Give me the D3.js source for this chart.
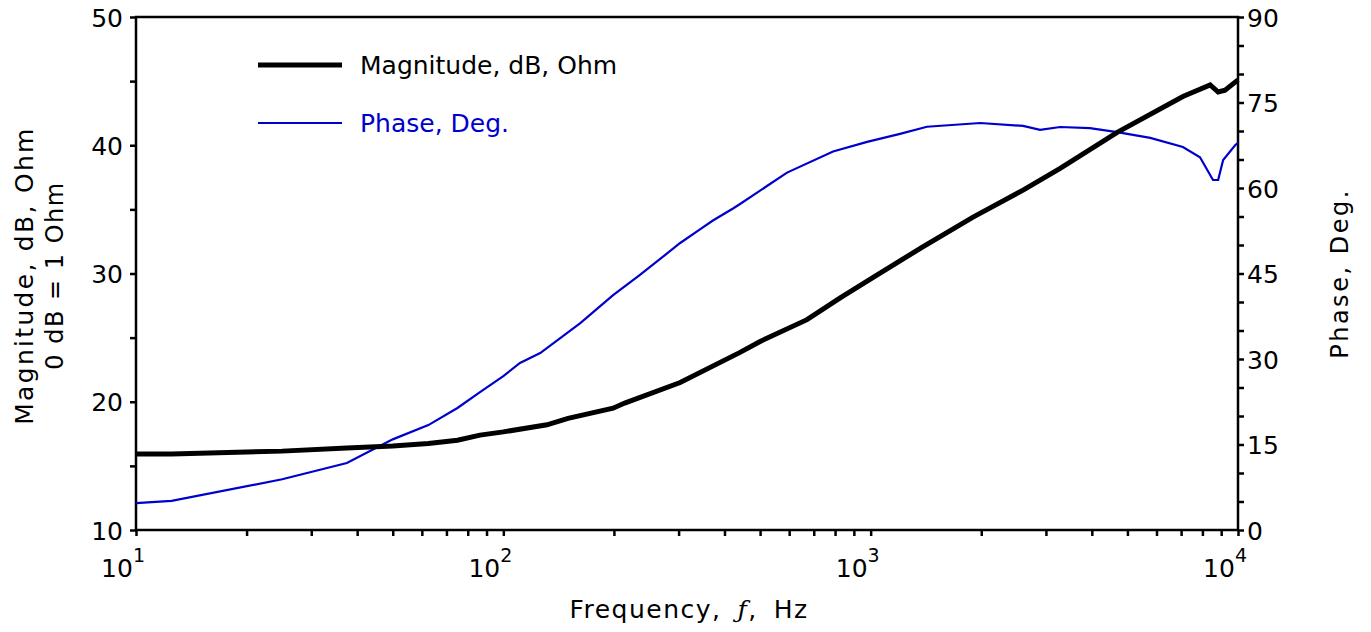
<!DOCTYPE html>
<html>
<head>
<meta charset="utf-8">
<script src="https://cdn.jsdelivr.net/npm/d3@7"></script>
<style>
    body { margin: 0; background: #fff; }
    text { font-family: "DejaVu Sans", Verdana, sans-serif; }
</style>
</head>
<body>
<div id="chart"></div>
<script>
// Impedance magnitude (dB re 1 Ohm) and phase vs frequency
const magFreq = [10, 12.5, 25, 37.5, 50, 62.5, 75, 86.4, 100, 131.5, 150, 199, 214, 303, 441, 500, 671, 826, 1016, 1390, 1900, 2600, 3280, 4690, 7080, 8400, 8830, 9220, 10000];
const magDb   = [15.93, 15.93, 16.15, 16.4, 16.55, 16.75, 17.0, 17.4, 17.65, 18.2, 18.7, 19.5, 19.9, 21.5, 23.85, 24.7, 26.4, 28.1, 29.7, 32.1, 34.4, 36.5, 38.2, 41.0, 43.8, 44.7, 44.15, 44.3, 45.1];

const phaseFreq = [10, 12.5, 25, 37.5, 50, 62.5, 75, 86.4, 100, 111, 126, 162, 199, 235, 303, 343, 372, 422, 441, 522, 592, 790, 978, 1202, 1423, 1987, 2600, 2892, 3280, 3953, 4690, 5770, 7080, 7880, 8550, 8830, 9110, 9820, 10000];
const phaseDeg  = [4.7, 5.1, 8.9, 11.75, 15.9, 18.4, 21.4, 24.2, 27.0, 29.3, 31.05, 36.3, 41.2, 44.7, 50.35, 52.75, 54.3, 56.4, 57.2, 60.35, 62.7, 66.4, 68.1, 69.5, 70.75, 71.4, 70.9, 70.2, 70.7, 70.5, 69.8, 68.8, 67.2, 65.4, 61.4, 61.4, 64.9, 67.5, 67.9];

const decades = [1, 2, 3, 4];
const magTicks = [10, 20, 30, 40, 50];
const phaseTicks = [0, 15, 30, 45, 60, 75, 90];

const W = 1371, H = 632;
const margin = { top: 17, right: 133, bottom: 102, left: 136 };
const width = W - margin.left - margin.right;
const height = H - margin.top - margin.bottom;
const blue = '#0000cc';

const svg = d3.select('#chart').append('svg')
    .attr('width', W)
    .attr('height', H);

const g = svg.append('g')
    .attr('transform', `translate(${margin.left},${margin.top})`);

const x = d3.scaleLog().domain([10, 10000]).range([0, width]);
const yMag = d3.scaleLinear().domain([10, 50]).range([height, 0]);
const yPh = d3.scaleLinear().domain([0, 90]).range([height, 0]);

// minor ticks on log axis
const xMinor = [];
decades.slice(0, 3).forEach(d => {
    for (let k = 2; k <= 9; k++) xMinor.push(k * Math.pow(10, d));
});
const xMajor = decades.map(d => Math.pow(10, d));

// frame
g.append('rect')
    .attr('width', width)
    .attr('height', height)
    .attr('fill', 'none')
    .attr('stroke', '#000')
    .attr('stroke-width', 2.5);

// bottom axis
const xAxis = g.append('g')
    .attr('transform', `translate(0,${height})`)
    .call(d3.axisBottom(x).tickValues(xMajor.concat(xMinor)).tickSize(6).tickSizeOuter(0).tickFormat(''));
xAxis.select('.domain').remove();
xAxis.selectAll('line').attr('stroke-width', 2.5);

const xLab = g.append('g').selectAll('text')
    .data(decades)
    .enter().append('text')
    .attr('x', d => x(Math.pow(10, d)) + 9)
    .attr('y', height + 47)
    .attr('text-anchor', 'end')
    .style('font-size', '25px');
xLab.append('tspan').text('10');
xLab.append('tspan')
    .attr('dy', -15)
    .style('font-size', '19px')
    .text(d => d);

// left axis
const magMinor = d3.range(15, 50, 10);
const yAxisL = g.append('g')
    .call(d3.axisLeft(yMag).tickValues(magTicks.concat(magMinor)).tickSize(6).tickSizeOuter(0)
        .tickFormat(d => magTicks.includes(d) ? d : ''));
yAxisL.select('.domain').remove();
yAxisL.selectAll('line').attr('stroke-width', 2.5);
yAxisL.selectAll('text')
    .attr('x', -13)
    .attr('dy', '0.36em')
    .style('font-size', '25px')
    .style('font-family', '"DejaVu Sans", Verdana, sans-serif')
    .attr('fill', '#000');

// right axis
const phMinor = d3.range(5, 90, 5).filter(d => d % 15 !== 0);
const yAxisR = g.append('g')
    .attr('transform', `translate(${width},0)`)
    .call(d3.axisRight(yPh).tickValues(phaseTicks.concat(phMinor)).tickSize(6).tickSizeOuter(0)
        .tickFormat(d => phaseTicks.includes(d) ? d : ''));
yAxisR.select('.domain').remove();
yAxisR.selectAll('line').attr('stroke-width', 2.5);
yAxisR.selectAll('text')
    .attr('x', 9)
    .attr('dy', '0.36em')
    .style('font-size', '25px')
    .style('font-family', '"DejaVu Sans", Verdana, sans-serif')
    .attr('fill', '#000');

// curves
const magLine = d3.line()
    .x((d, i) => x(magFreq[i]))
    .y(d => yMag(d));
const phLine = d3.line()
    .x((d, i) => x(phaseFreq[i]))
    .y(d => yPh(d));

g.append('path')
    .datum(phaseDeg)
    .attr('d', phLine)
    .attr('fill', 'none')
    .attr('stroke', blue)
    .attr('stroke-width', 2.2);

g.append('path')
    .datum(magDb)
    .attr('d', magLine)
    .attr('fill', 'none')
    .attr('stroke', '#000')
    .attr('stroke-width', 5);

// legend
const legend = g.append('g').attr('transform', 'translate(122,48)');
const legendItems = [
    { label: 'Magnitude, dB, Ohm', color: '#000', w: 5 },
    { label: 'Phase, Deg.', color: blue, w: 2.2 }
];
legendItems.forEach((it, i) => {
    const row = legend.append('g').attr('transform', `translate(0,${i * 58})`);
    row.append('line')
        .attr('x1', 0).attr('x2', 84)
        .attr('stroke', it.color)
        .attr('stroke-width', it.w);
    row.append('text')
        .attr('x', 102)
        .attr('y', 9)
        .style('font-size', '25px')
        .attr('fill', it.color)
        .text(it.label);
});

// axis titles
svg.append('text')
    .attr('transform', `translate(${margin.left + width / 2 + 2},${H - 14})`)
    .attr('text-anchor', 'middle')
    .style('font-size', '25px')
    .attr('letter-spacing', '1.5px')
    .html('Frequency,&#8201; <tspan font-style="italic" font-family="DejaVu Serif">ƒ</tspan>,&#8201; Hz');

svg.append('text')
    .attr('transform', `translate(33,${margin.top + height / 2 + 2}) rotate(-90)`)
    .attr('text-anchor', 'middle')
    .style('font-size', '25px')
    .attr('letter-spacing', '2.3px')
    .text('Magnitude,  dB,  Ohm');

svg.append('text')
    .attr('transform', `translate(63,${margin.top + height / 2 + 2}) rotate(-90)`)
    .attr('text-anchor', 'middle')
    .style('font-size', '24px')
    .attr('letter-spacing', '1.5px')
    .text('0 dB = 1 Ohm');

svg.append('text')
    .attr('transform', `translate(1348,${margin.top + height / 2}) rotate(-90)`)
    .attr('text-anchor', 'middle')
    .style('font-size', '24px')
    .attr('letter-spacing', '2.5px')
    .text('Phase,  Deg.');
</script>
</body>
</html>
